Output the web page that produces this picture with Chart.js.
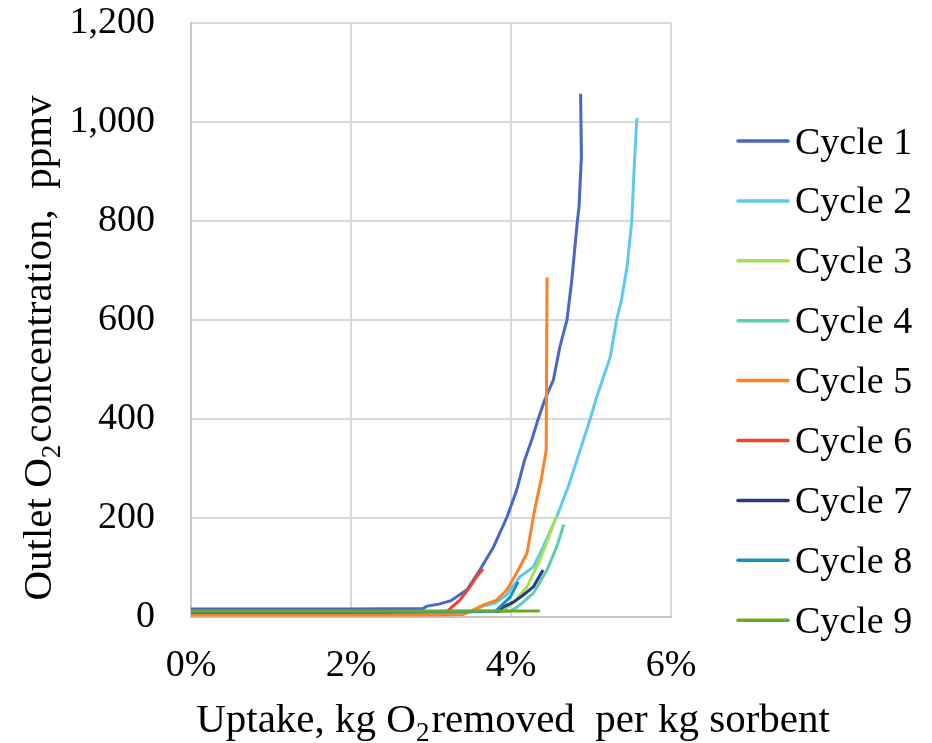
<!DOCTYPE html>
<html>
<head>
<meta charset="utf-8">
<script src="https://cdn.jsdelivr.net/npm/chart.js@4.4.1/dist/chart.umd.min.js"></script>
<style>
  html, body { margin: 0; padding: 0; background: #ffffff; }
  canvas { display: block; }
</style>
</head>
<body>
<canvas id="c" width="932" height="743"></canvas>
<script>
// ---- Data (x in % uptake, y in ppmv) ----
const cycleLabels = ['Cycle 1','Cycle 2','Cycle 3','Cycle 4','Cycle 5','Cycle 6','Cycle 7','Cycle 8','Cycle 9'];
const cycleColors = ['#4a66c8','#5cc9f2','#a6e050','#5ccfb2','#ff8126','#f0442a','#243a82','#1a90c0','#6aaa2a'];

const c1x = [0, 1.0, 2.0, 2.9, 2.95, 3.1, 3.25, 3.45, 3.61, 3.78, 3.95, 4.07, 4.17, 4.26, 4.34, 4.42, 4.53, 4.61, 4.70, 4.76, 4.83, 4.85, 4.88, 4.87];
const c1y = [16, 16, 16, 17, 22, 26, 33, 55, 95, 141, 202, 256, 317, 358, 400, 438, 479, 545, 600, 681, 800, 828, 930, 1057];

const c2x = [0, 2.0, 3.5, 3.65, 3.8, 3.95, 4.11, 4.28, 4.40, 4.57, 4.72, 4.85, 4.99, 5.07, 5.24, 5.32, 5.38, 5.45, 5.51, 5.54, 5.57, 5.58];
const c2y = [10, 10, 11, 22, 28, 45, 81, 101, 141, 202, 265, 330, 400, 444, 525, 600, 640, 707, 800, 909, 1000, 1008];

const c3x = [0, 2.0, 3.9, 4.03, 4.20, 4.36, 4.49, 4.57];
const c3y = [10, 10, 12, 30, 61, 115, 170, 204];

const c4x = [0, 2.0, 4.0, 4.11, 4.28, 4.45, 4.57, 4.66];
const c4y = [10, 10, 12, 24, 48, 95, 141, 187];

const c5x = [0, 1.0, 2.0, 3.0, 3.4, 3.5, 3.65, 3.82, 3.95, 4.07, 4.20, 4.30, 4.38, 4.44, 4.45];
const c5y = [4, 4, 4, 4, 5, 12, 24, 34, 55, 89, 129, 220, 280, 337, 686];

const c6x = [0, 2.0, 3.2, 3.26, 3.36, 3.46, 3.57, 3.65];
const c6y = [10, 10, 11, 20, 34, 55, 81, 97];

const c7x = [0, 2.0, 3.85, 3.90, 4.03, 4.15, 4.28, 4.40];
const c7y = [10, 10, 11, 20, 30, 44, 61, 95];

const c8x = [0, 2.0, 3.8, 3.86, 3.99, 4.09];
const c8y = [10, 10, 11, 20, 40, 71];

const c9x = [0, 4.36];
const c9y = [12, 12];

const xTicks = [0, 2, 4, 6];
const yTicks = [0, 200, 400, 600, 800, 1000, 1200];

const seriesX = [c1x, c2x, c3x, c4x, c5x, c6x, c7x, c8x, c9x];
const seriesY = [c1y, c2y, c3y, c4y, c5y, c6y, c7y, c8y, c9y];

const FONT = '"Liberation Serif", "Times New Roman", serif';
const FS = 38;      // tick & legend font size
const TFS = 41;     // axis title font size

// target plot area
const AREA = { left: 191, top: 23, right: 671, bottom: 617 };

const datasets = cycleLabels.map((lab, i) => ({
  label: lab,
  data: seriesX[i].map((x, j) => ({ x: x, y: seriesY[i][j] })),
  borderColor: cycleColors[i],
  backgroundColor: cycleColors[i],
  borderWidth: 3,
  pointRadius: 0,
  showLine: true,
  fill: false,
  tension: 0,
  order: cycleLabels.length - i
}));

const decorPlugin = {
  id: 'decor',
  afterDraw(chart) {
    const ctx = chart.ctx;
    ctx.save();
    ctx.font = FS + 'px ' + FONT;
    ctx.textBaseline = 'alphabetic';
    ctx.textAlign = 'left';
    cycleLabels.forEach((lab, i) => {
      const cy = 141 + 59.9 * i;
      ctx.strokeStyle = cycleColors[i];
      ctx.lineWidth = 3.5;
      ctx.lineCap = 'round';
      ctx.beginPath();
      ctx.moveTo(738, cy);
      ctx.lineTo(788, cy);
      ctx.stroke();
      ctx.fillStyle = '#000000';
      ctx.fillText(lab, 795, cy + 12.5);
    });

    function drawParts(parts, cx, baseY) {
      const subFS = Math.round(TFS * 0.66);
      let total = 0;
      parts.forEach(p => {
        ctx.font = (p.sub ? subFS : TFS) + 'px ' + FONT;
        total += ctx.measureText(p.t).width + (p.gap || 0);
      });
      let x = cx - total / 2;
      parts.forEach(p => {
        ctx.font = (p.sub ? subFS : TFS) + 'px ' + FONT;
        ctx.fillText(p.t, x, baseY + (p.sub ? 9 : 0));
        x += ctx.measureText(p.t).width + (p.gap || 0);
      });
    }
    ctx.fillStyle = '#000000';
    ctx.textAlign = 'left';
    drawParts([
      { t: 'Uptake, kg O' },
      { t: '2', sub: true, gap: 2 },
      { t: 'removed  per kg sorbent' }
    ], 513, 732);
    ctx.save();
    ctx.translate(51, 348);
    ctx.rotate(-Math.PI / 2);
    drawParts([
      { t: 'Outlet O' },
      { t: '2', sub: true, gap: 2 },
      { t: 'concentration,  ppmv' }
    ], 0, 0);
    ctx.restore();
    ctx.restore();
  }
};

const config = {
  type: 'scatter',
  data: { datasets: datasets },
  options: {
    responsive: false,
    animation: false,
    devicePixelRatio: 1,
    layout: { padding: { top: 23, right: 261, left: 0, bottom: 0 } },
    plugins: {
      legend: { display: false },
      tooltip: { enabled: false }
    },
    scales: {
      x: {
        type: 'linear',
        min: 0, max: 6,
        afterFit(scale) { scale.height = 743 - AREA.bottom; scale.paddingLeft = 0; scale.paddingRight = 0; },
        afterBuildTicks(scale) { scale.ticks = xTicks.map(v => ({ value: v })); },
        ticks: {
          color: '#000000',
          font: { family: FONT, size: FS, lineHeight: 1 },
          padding: 30,
          maxRotation: 0,
          callback: v => v + '%'
        },
        grid: { color: '#d9d9d9', lineWidth: 2, drawTicks: false },
        border: { color: '#c4c4c4', width: 2 }
      },
      y: {
        type: 'linear',
        min: 0, max: 1200,
        afterFit(scale) { scale.width = AREA.left; scale.paddingTop = 0; scale.paddingBottom = 0; },
        afterBuildTicks(scale) { scale.ticks = yTicks.map(v => ({ value: v })); },
        ticks: {
          color: '#000000',
          font: { family: FONT, size: FS, lineHeight: 1 },
          padding: 36,
          callback: v => v.toLocaleString('en-US')
        },
        grid: { color: '#d9d9d9', lineWidth: 2, drawTicks: false },
        border: { color: '#c8c8c8', width: 2 }
      }
    }
  },
  plugins: [decorPlugin]
};

const chart = new Chart(document.getElementById('c'), config);
// Nudge layout padding so the plot area lands on the target box
for (let k = 0; k < 3; k++) {
  const a = chart.chartArea;
  const p = config.options.layout.padding;
  const dt = a.top - AREA.top, db = AREA.bottom - a.bottom, dl = a.left - AREA.left, dr = AREA.right - a.right;
  if (Math.abs(dt) < 0.5 && Math.abs(db) < 0.5 && Math.abs(dl) < 0.5 && Math.abs(dr) < 0.5) break;
  p.top -= dt; p.bottom -= db; p.left -= dl; p.right -= dr;
  chart.options.layout.padding = p;
  chart.update();
}
</script>
</body>
</html>
